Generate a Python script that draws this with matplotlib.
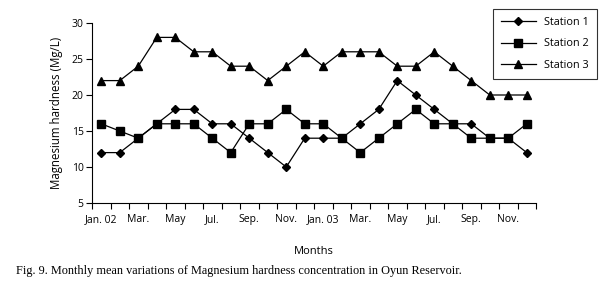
import matplotlib
matplotlib.use("Agg")
import matplotlib.pyplot as plt
import numpy as np

months = ["Jan. 02", "", "Mar.", "", "May", "", "Jul.", "", "Sep.", "", "Nov.", "",
          "Jan. 03", "", "Mar.", "", "May", "", "Jul.", "", "Sep.", "", "Nov.", ""]
station1 = [12, 12, 14, 16, 18, 18, 16, 16, 14, 12, 10, 14,
            14, 14, 16, 18, 22, 20, 18, 16, 16, 14, 14, 12]
station2 = [16, 15, 14, 16, 16, 16, 14, 12, 16, 16, 18, 16,
            16, 14, 12, 14, 16, 18, 16, 16, 14, 14, 14, 16]
station3 = [22, 22, 24, 28, 28, 26, 26, 24, 24, 22, 24, 26,
            24, 26, 26, 26, 24, 24, 26, 24, 22, 20, 20, 20]

plt.rcParams['font.family'] = ['Open Sans', 'DejaVu Sans']

fig = plt.figure(figsize=(6.11, 2.92), dpi=100)
ax = fig.add_axes([92 / 611, 1 - 203 / 292, (536 - 92) / 611, (203 - 23) / 292])

x = np.arange(len(station1))
ax.plot(x, station1, color='black', lw=0.9, marker='D', ms=4.4, label='Station 1')
ax.plot(x, station2, color='black', lw=0.9, marker='s', ms=5.4, label='Station 2')
ax.plot(x, station3, color='black', lw=0.9, marker='^', ms=6.2, label='Station 3')

ax.set_xlim(-0.5, len(x) - 0.5)
ax.set_ylim(5, 30)
ax.set_yticks([5, 10, 15, 20, 25, 30])

# ticks at month boundaries, labels under the points
ax.set_xticks(np.arange(len(x) + 1) - 0.5)
ax.set_xticklabels([])
ax.set_xticks(x, minor=True)
ax.set_xticklabels(months, minor=True)
ax.tick_params(axis='x', which='minor', length=0, pad=8, labelsize=7.5)
ax.tick_params(axis='x', which='major', length=4, width=0.8, direction='out')
ax.tick_params(axis='y', length=4, width=0.8, direction='out', labelsize=7.5, pad=2)

for s in ['top', 'right']:
    ax.spines[s].set_visible(False)
for s in ['left', 'bottom']:
    ax.spines[s].set_linewidth(0.8)

ax.set_ylabel("Magnesium hardness (Mg/L)", fontsize=8.3, labelpad=6)
ax.set_xlabel("Months", fontsize=8, labelpad=15)

leg = ax.legend(loc='upper left', bbox_to_anchor=(493 / 611, 1 - 9 / 292),
                bbox_transform=fig.transFigure, fontsize=7.8, frameon=True,
                fancybox=False, edgecolor='black', borderpad=0.75,
                labelspacing=0.95, handlelength=3.2, borderaxespad=0)
leg.get_frame().set_linewidth(0.8)

fig.text(16 / 611, 1 - 271 / 292,
         "Fig. 9. Monthly mean variations of Magnesium hardness concentration in Oyun Reservoir.",
         family=['Liberation Serif', 'DejaVu Serif'], fontsize=8.8, va='center')

fig.savefig("out.png", dpi=100)
